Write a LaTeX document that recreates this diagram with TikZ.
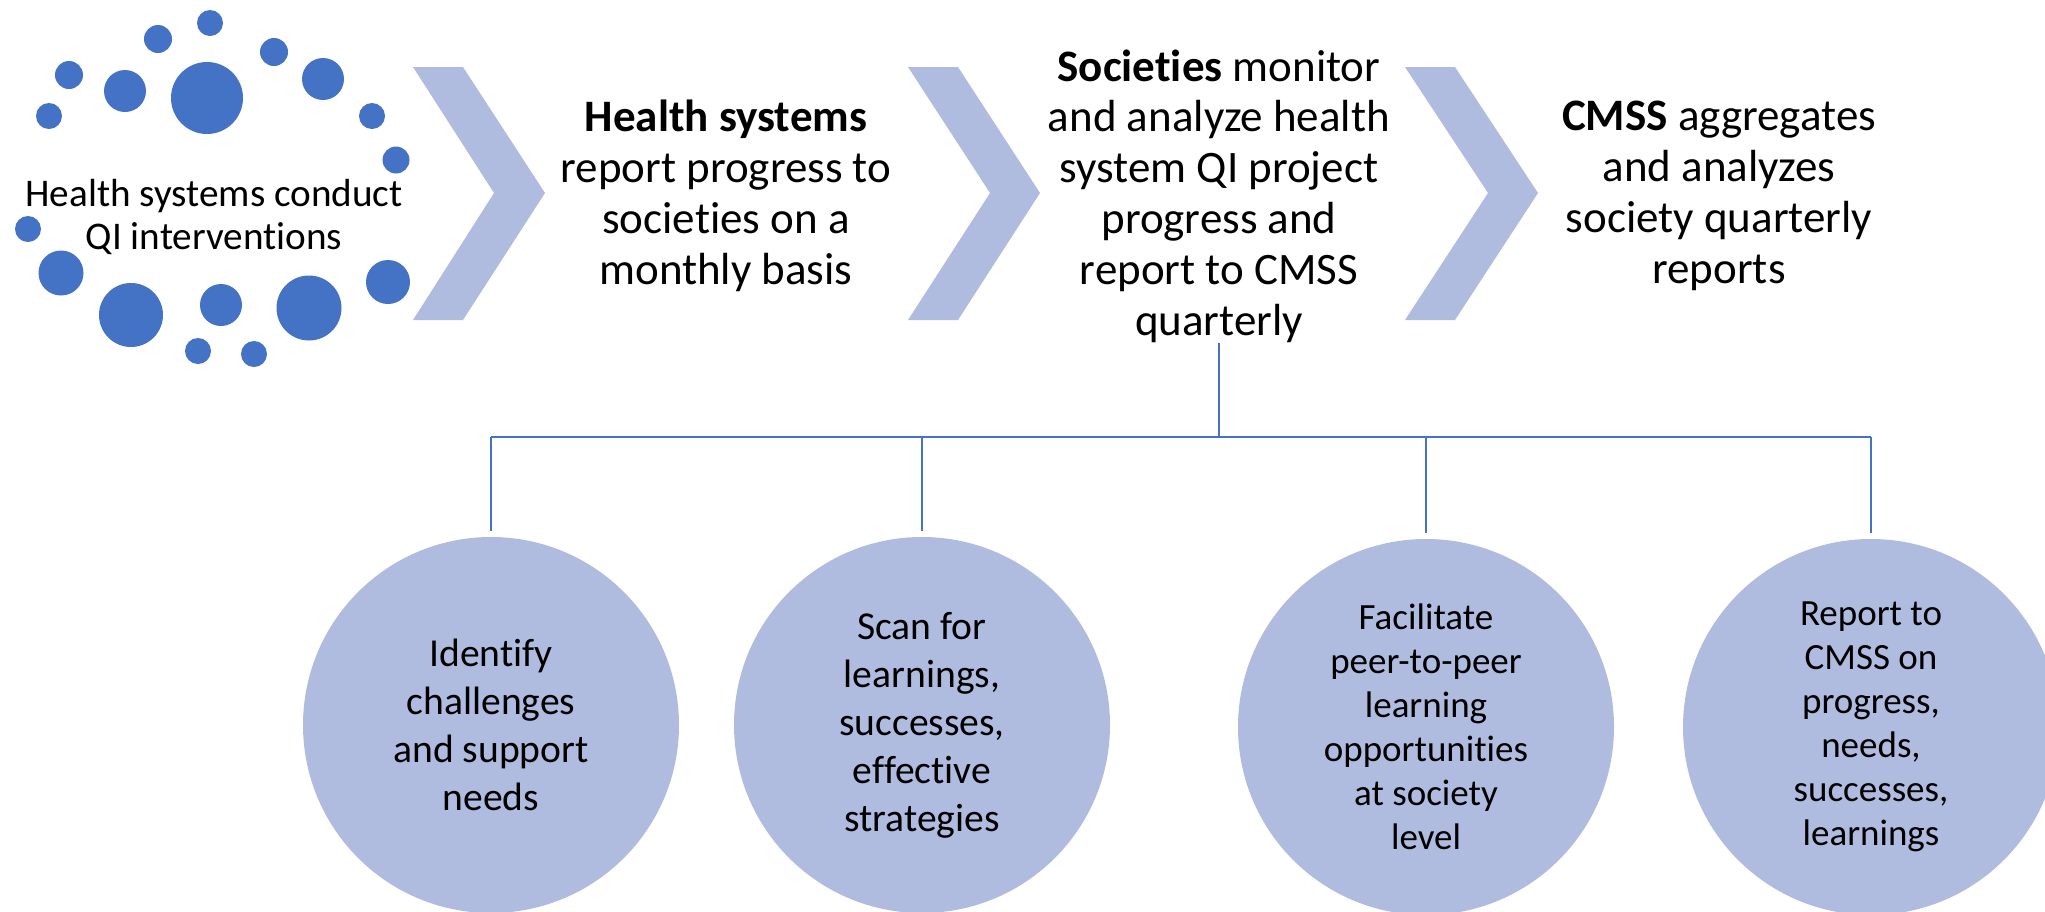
\documentclass[tikz,border=0pt]{standalone}
\usepackage{fontspec}
\setmainfont[Ligatures=NoCommon]{Carlito}
\usetikzlibrary{calc}
\definecolor{dotblue}{RGB}{68,114,196}
\definecolor{chev}{RGB}{176,188,223}
\begin{document}
\begin{tikzpicture}[x=0.5pt,y=-0.5pt,
  dot/.style={fill=dotblue},
  chevron/.style={fill=chev},
  toptext/.style={align=center, inner sep=0pt, text=black,
    font=\fontsize{22.5pt}{25.4pt}\selectfont},
  lefttext/.style={align=center, inner sep=0pt, text=black,
    font=\fontsize{19.6pt}{21.5pt}\selectfont},
  bubble/.style={circle, fill=chev, minimum size=188pt, inner sep=0pt,
    align=center, text=black},
  bigtext/.style={font=\fontsize{19.8pt}{24pt}\selectfont},
  smalltext/.style={font=\fontsize{18.5pt}{22pt}\selectfont},
  conn/.style={draw=dotblue, line width=1pt}]
\path[use as bounding box] (0,0) rectangle (2045,911);
\clip (0,0) rectangle (2045,911);

% dots
\foreach \x/\y/\r in {210/23/13, 158/39/14, 274/52/14, 69/75/14, 125/91/21,
  207/98/36, 323/79/21, 49/116/13, 372/116/13, 396/160/13.5, 28/229/13,
  61/273/22.5, 131/315/32, 221/305/21, 309/308/32.5, 388/282/22,
  198/351/13, 254/354/13}
  \fill[dot] (\x,\y) circle[radius=\r*0.5pt];

% chevrons
\fill[chevron] (413,67) -- (463,67) -- (545,193) -- (463,320) -- (413,320) -- (494,193) -- cycle;
\fill[chevron] (908,67) -- (958,67) -- (1040,193) -- (958,320) -- (908,320) -- (990,193) -- cycle;
\fill[chevron] (1405,67) -- (1455,67) -- (1538,193) -- (1455,320) -- (1405,320) -- (1488,193) -- cycle;

% texts
\node[lefttext] (start) at (214,217) {Health systems conduct\\QI interventions};
\node[toptext] (hs) at (726,196) {\textbf{Health systems}\\report progress to\\societies on a\\monthly basis};
\node[toptext] (soc) at (1219,196) {\textbf{Societies} monitor\\and analyze health\\system QI project\\progress and\\report to CMSS\\quarterly};
\node[toptext] (cmss) at (1719,196) {\textbf{CMSS} aggregates\\and analyzes\\society quarterly\\reports};

% circles
\node[bubble, bigtext] (c1) at (491,725) {Identify\\challenges\\and support\\needs};
\node[bubble, bigtext] (c2) at (922,725) {Scan for\\learnings,\\successes,\\effective\\strategies};
\node[bubble, smalltext] (c3) at (1426,727) {Facilitate\\peer-to-peer\\learning\\opportunities\\at society\\level};
\node[bubble, smalltext] (c4) at (1871,727) {Report to\\CMSS on\\progress,\\needs,\\successes,\\learnings};

% connectors
\coordinate (bus) at (1219,437);
\draw[conn] (soc.south) -- (soc.south |- bus);
\draw[conn] (c1.north |- bus) -- (c4.north |- bus);
\foreach \c in {c1,c2,c3,c4}
  \draw[conn, shorten >=3pt] (\c.north |- bus) -- (\c.north);
\end{tikzpicture}
\end{document}
